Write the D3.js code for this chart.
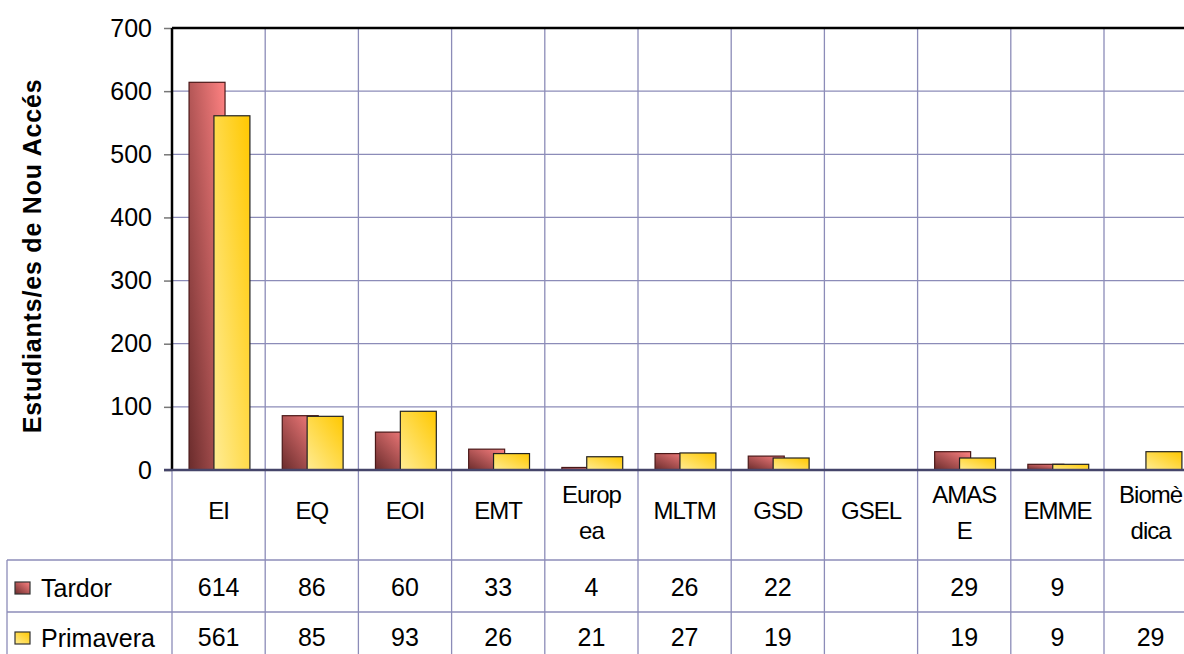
<!DOCTYPE html>
<html>
<head>
<meta charset="utf-8">
<style>
  body { margin: 0; background: #fff; }
  svg { font-family: "Liberation Sans", Arial, sans-serif; }
  .grid line { stroke: #8c8cb8; stroke-width: 1.3; }
  .axis path { display: none; }
  .axis line { stroke: #777; stroke-width: 1.5; }
  .axis text { font-size: 25px; fill: #000; }
  .val { font-size: 25px; text-anchor: middle; }
  .cat { font-size: 24px; text-anchor: middle; letter-spacing: -1px; }
</style>
</head>
<body>
<svg width="1184" height="654"></svg>
<script src="https://d3js.org/d3.v7.min.js"></script>
<script>
// data
var categories = ["EI", "EQ", "EOI", "EMT", "Europea", "MLTM", "GSD", "GSEL", "AMASE", "EMME", "Biomèdica"];
var catLines = [["EI"], ["EQ"], ["EOI"], ["EMT"], ["Europ", "ea"], ["MLTM"], ["GSD"], ["GSEL"], ["AMAS", "E"], ["EMME"], ["Biomè", "dica"]];
var tardor    = [614, 86, 60, 33, 4, 26, 22, null, 29, 9, null];
var primavera = [561, 85, 93, 26, 21, 27, 19, null, 19, 9, 29];
var seriesNames = ["Tardor", "Primavera"];
var yTicks = [0, 100, 200, 300, 400, 500, 600, 700];

var svg = d3.select("svg");

var plotLeft = 172, plotTop = 28, plotBottom = 470, colW = 93.2;
var rowCat = 560, rowT = 612, tableLeft = 7;

var x = d3.scaleBand().domain(categories).range([plotLeft, plotLeft + colW * categories.length]).padding(0);
var y = d3.scaleLinear().domain([0, 700]).range([plotBottom, plotTop]);

// gradients
var defs = svg.append("defs");
var g1 = defs.append("linearGradient").attr("id", "gT")
  .attr("x1", "0%").attr("y1", "100%").attr("x2", "100%").attr("y2", "0%");
g1.append("stop").attr("offset", "0%").attr("stop-color", "#6a2c2c");
g1.append("stop").attr("offset", "100%").attr("stop-color", "#ff8282");
var g2 = defs.append("linearGradient").attr("id", "gP")
  .attr("x1", "0%").attr("y1", "100%").attr("x2", "100%").attr("y2", "0%");
g2.append("stop").attr("offset", "0%").attr("stop-color", "#ffec94");
g2.append("stop").attr("offset", "100%").attr("stop-color", "#ffc800");

// horizontal gridlines
svg.append("g").attr("class", "grid")
  .selectAll("line").data(yTicks.filter(function(d) { return d > 0 && d < 700; }))
  .enter().append("line")
  .attr("x1", plotLeft).attr("x2", 1184)
  .attr("y1", function(d) { return y(d); }).attr("y2", function(d) { return y(d); });

// vertical gridlines (plot + table)
var bounds = categories.map(function(c) { return x(c); }).concat([x.range()[1]]);
svg.append("g").attr("class", "grid")
  .selectAll("line").data(bounds)
  .enter().append("line")
  .attr("x1", function(d) { return d; }).attr("x2", function(d) { return d; })
  .attr("y1", plotTop).attr("y2", 654);

// table rows
svg.append("g").attr("class", "grid")
  .selectAll("line").data([rowCat, rowT])
  .enter().append("line")
  .attr("x1", tableLeft).attr("x2", 1184)
  .attr("y1", function(d) { return d; }).attr("y2", function(d) { return d; });
svg.append("line").attr("x1", tableLeft).attr("x2", tableLeft)
  .attr("y1", rowCat).attr("y2", 654).attr("stroke", "#8c8cb8").attr("stroke-width", 1.3);

// y axis
svg.append("g").attr("class", "axis")
  .attr("transform", "translate(" + plotLeft + ",0)")
  .call(d3.axisLeft(y).tickValues(yTicks).tickSize(8).tickPadding(12));

// bars
var bw = x.bandwidth();
var bars = svg.append("g");
bars.selectAll("rect.t").data(categories.map(function(c, i) { return {c: c, v: tardor[i]}; }).filter(function(d) { return d.v != null; }))
  .enter().append("rect").attr("class", "t")
  .attr("x", function(d) { return x(d.c) + bw * 0.183; })
  .attr("width", bw * 0.386)
  .attr("y", function(d) { return y(d.v); })
  .attr("height", function(d) { return y(0) - y(d.v); })
  .attr("fill", "url(#gT)").attr("stroke", "#4a1818").attr("stroke-width", 1.2);
bars.selectAll("rect.p").data(categories.map(function(c, i) { return {c: c, v: primavera[i]}; }).filter(function(d) { return d.v != null; }))
  .enter().append("rect").attr("class", "p")
  .attr("x", function(d) { return x(d.c) + bw * 0.45; })
  .attr("width", bw * 0.386)
  .attr("y", function(d) { return y(d.v); })
  .attr("height", function(d) { return y(0) - y(d.v); })
  .attr("fill", "url(#gP)").attr("stroke", "#222").attr("stroke-width", 1.2);

// plot frame: top and left black, baseline dark
svg.append("line").attr("x1", plotLeft).attr("x2", 1184).attr("y1", plotTop).attr("y2", plotTop)
  .attr("stroke", "#000").attr("stroke-width", 2.5);
svg.append("line").attr("x1", plotLeft).attr("x2", plotLeft).attr("y1", plotTop).attr("y2", plotBottom)
  .attr("stroke", "#000").attr("stroke-width", 2.5);
svg.append("line").attr("x1", plotLeft - 8).attr("x2", 1184).attr("y1", plotBottom).attr("y2", plotBottom)
  .attr("stroke", "#45456a").attr("stroke-width", 2.5);

// category labels
var cats = svg.append("g");
categories.forEach(function(c, i) {
  var lines = catLines[i];
  var cx = x(c) + bw / 2;
  var t = cats.append("text").attr("class", "cat").attr("x", cx);
  if (lines.length === 1) {
    t.attr("y", 519).text(lines[0]);
  } else {
    t.append("tspan").attr("x", cx).attr("y", 503).text(lines[0]);
    t.append("tspan").attr("x", cx).attr("y", 539).text(lines[1]);
  }
});

// values
[tardor, primavera].forEach(function(arr, k) {
  svg.append("g").selectAll("text").data(categories.map(function(c, i) { return {c: c, v: arr[i]}; }).filter(function(d) { return d.v != null; }))
    .enter().append("text").attr("class", "val")
    .attr("x", function(d) { return x(d.c) + bw / 2; })
    .attr("y", k === 0 ? 596 : 646)
    .text(function(d) { return d.v; });
});

// legend in table
seriesNames.forEach(function(s, k) {
  var yy = k === 0 ? 582 : 632;
  svg.append("rect").attr("x", 15).attr("y", yy).attr("width", 15).attr("height", 12)
    .attr("fill", k === 0 ? "url(#gT)" : "url(#gP)").attr("stroke", "#333").attr("stroke-width", 1.2);
  svg.append("text").attr("x", 41).attr("y", k === 0 ? 597 : 647)
    .style("font-size", "25px").text(s);
});

// y title
svg.append("text")
  .attr("transform", "translate(41,256) rotate(-90)")
  .attr("text-anchor", "middle")
  .style("font-size", "25px").style("font-weight", "bold").style("letter-spacing", "0.8px")
  .text("Estudiants/es de Nou Accés");
</script>
</body>
</html>
